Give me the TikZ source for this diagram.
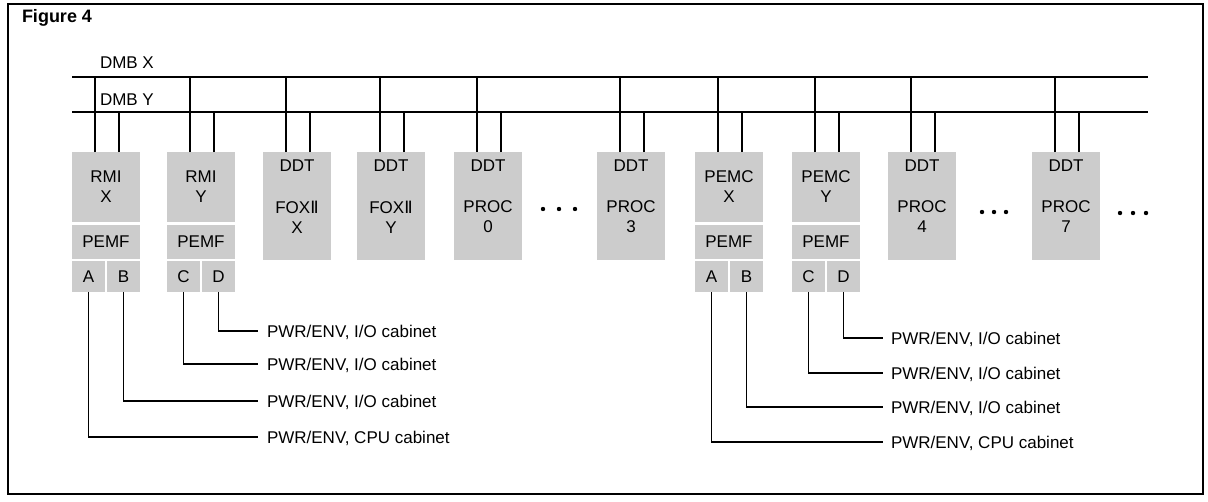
\documentclass[tikz,border=0pt]{standalone}
\usepackage{fontspec}
\setmainfont{Liberation Sans}
\newfontfamily\dvs{DejaVu Sans}
\definecolor{halftone}{gray}{0.80}
\newcommand{\RomII}{{\dvs Ⅱ}}
\begin{document}
\begin{tikzpicture}[x=1pt,y=-1pt,
  every node/.style={font=\fontsize{17}{20}\selectfont, inner sep=0pt, outer sep=0pt},
  shadebox/.style={fill=halftone, draw=none, minimum width=68pt, anchor=north west},
  wire/.style={line width=1.1pt},
  lbl/.style={anchor=west, text height=12.2pt, text depth=0pt},
 ]
\useasboundingbox (0,0) rectangle (1208,501);
\draw[line width=1.4pt] (8,4) rectangle (1203,494);
\node[anchor=base west, font=\fontsize{18}{20}\selectfont\bfseries] (title) at (22,22) {Figure 4};

% buses
\coordinate (xL) at (72,77); \coordinate (xR) at (1148,77);
\coordinate (yL) at (72,112); \coordinate (yR) at (1148,112);
\draw[wire] (xL) -- (xR);
\draw[wire] (yL) -- (yR);
\node[anchor=base west] (dmbx) at (100,68) {DMB X};
\node[anchor=base west] (dmby) at (100,105) {DMB Y};

% modules with PEMF
\foreach \x/\n/\t/\p/\q in {72/rx/RMI\\X/A/B, 167/ry/RMI\\Y/C/D, 695/px/PEMC\\X/A/B, 792/py/PEMC\\Y/C/D}{
  \node[shadebox, minimum height=70pt, align=center] (\n) at (\x,152) {\t};
  \node[shadebox, minimum height=34pt] (\n-f) at (\x,225) {PEMF};
  \node[shadebox, minimum width=33pt, minimum height=31pt] (\n-a) at (\x,261) {\p};
  \node[shadebox, minimum width=33pt, minimum height=31pt] (\n-b) at ({\x+35},261) {\q};
  \draw[wire] ([xshift=-11pt]\n.north) -- ([xshift=-11pt]\n.north |- xL);
  \draw[wire] ([xshift=13pt]\n.north) -- ([xshift=13pt]\n.north |- yL);
}

% DDT modules
\foreach \x/\n/\s/\t in {263/d1/FOX\RomII/X, 357/d2/FOX\RomII/Y, 454/d3/PROC/0, 597/d4/PROC/3, 888/d5/PROC/4, 1032/d6/PROC/7}{
  \node[shadebox, minimum height=108pt] (\n) at (\x,152) {};
  \node (\n-t) at ({\x+34},166) {DDT};
  \node[align=center] (\n-s) at ({\x+34},217) {\s\\\t};
  \draw[wire] ([xshift=-11pt]\n.north) -- ([xshift=-11pt]\n.north |- xL);
  \draw[wire] ([xshift=13pt]\n.north) -- ([xshift=13pt]\n.north |- yL);
}

% ellipses
\foreach \cx/\cy in {543/209, 559/209, 575/209, 982/212, 994/212, 1006/212, 1120/213, 1133/213, 1146/213}
  \fill (\cx,\cy) circle (2.2pt);

% outputs, left group
\node[lbl] (l1) at (267,331) {PWR/ENV, I/O cabinet};
\node[lbl] (l2) at (267,364) {PWR/ENV, I/O cabinet};
\node[lbl] (l3) at (267,401) {PWR/ENV, I/O cabinet};
\node[lbl] (l4) at (267,437) {PWR/ENV, CPU cabinet};
\draw[wire] (ry-b.south) |- ([xshift=-9pt]l1.west);
\draw[wire] (ry-a.south) |- ([xshift=-9pt]l2.west);
\draw[wire] (rx-b.south) |- ([xshift=-9pt]l3.west);
\draw[wire] (rx-a.south) |- ([xshift=-9pt]l4.west);

% outputs, right group
\node[lbl] (r1) at (891,338) {PWR/ENV, I/O cabinet};
\node[lbl] (r2) at (891,373) {PWR/ENV, I/O cabinet};
\node[lbl] (r3) at (891,407) {PWR/ENV, I/O cabinet};
\node[lbl] (r4) at (891,442) {PWR/ENV, CPU cabinet};
\draw[wire] (py-b.south) |- ([xshift=-8pt]r1.west);
\draw[wire] (py-a.south) |- ([xshift=-8pt]r2.west);
\draw[wire] (px-b.south) |- ([xshift=-8pt]r3.west);
\draw[wire] (px-a.south) |- ([xshift=-8pt]r4.west);
\end{tikzpicture}
\end{document}
